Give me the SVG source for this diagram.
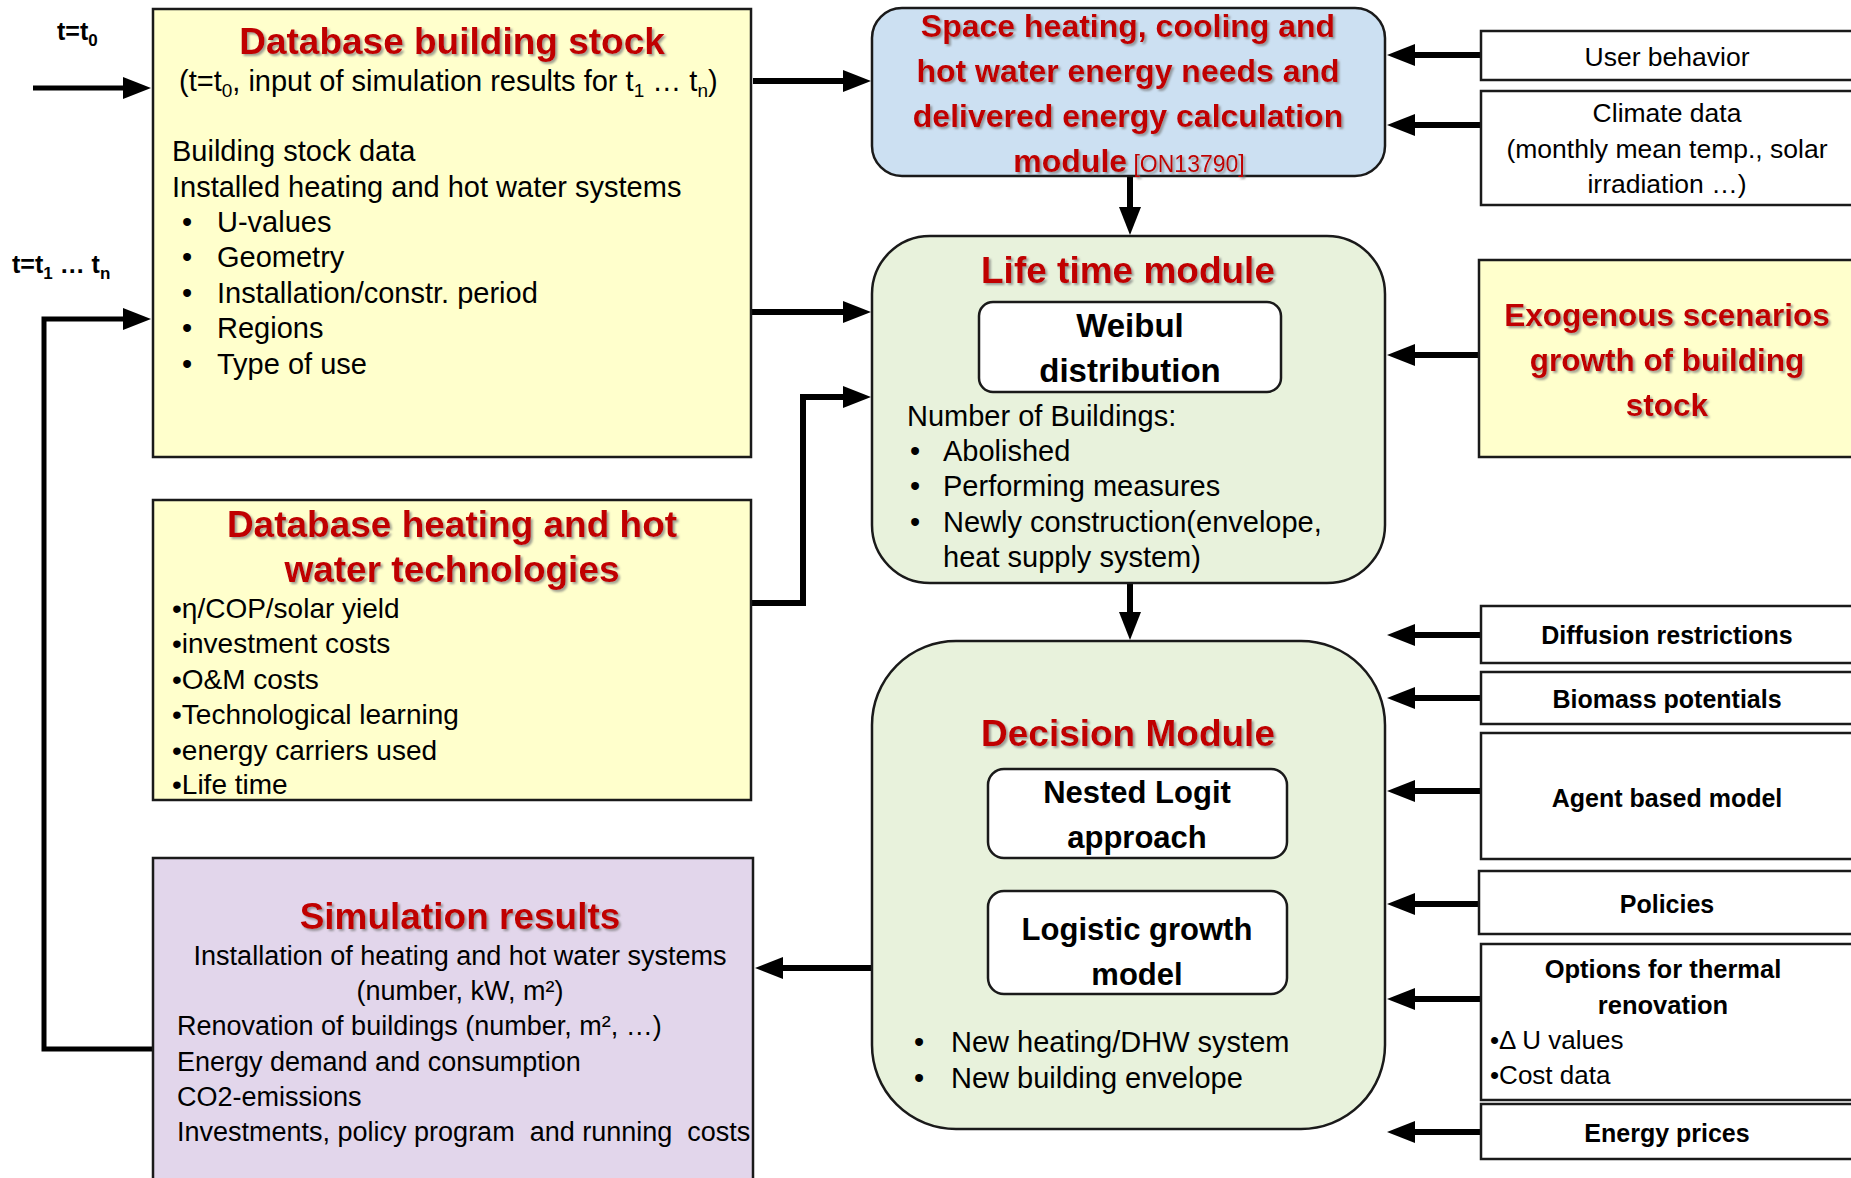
<svg xmlns="http://www.w3.org/2000/svg" width="1851" height="1178" viewBox="0 0 1851 1178">
<style>
.box{stroke:#1a1a1a;stroke-width:2.5}
.yel{fill:#FFFFCC}
.blue{fill:#CCE0F2}
.green{fill:#E8F2DC}
.lav{fill:#E2D6EB}
.wht{fill:#FFFFFF}
.t{font-family:"Liberation Sans",Arial,sans-serif;fill:#000}
.red{font-family:"Liberation Sans",Arial,sans-serif;font-weight:bold;fill:#C00000;filter:url(#sh)}
.b{font-weight:bold}
.c{text-anchor:middle}
.con{fill:none;stroke:#000;stroke-width:6}
.con2{fill:none;stroke:#000;stroke-width:5}
</style>
<defs>
<filter id="sh" x="-5%" y="-20%" width="110%" height="150%">
<feDropShadow dx="2" dy="2" stdDeviation="1" flood-color="#777" flood-opacity="0.7"/>
</filter>
<marker id="ah" markerUnits="userSpaceOnUse" markerWidth="28" markerHeight="22" viewBox="0 0 28 22" refX="2" refY="11" orient="auto">
<path d="M0,0 L28,11 L0,22 z" fill="#000"/>
</marker>
</defs>

<g id="connectors">
<path class="con2" d="M33,88 H125" marker-end="url(#ah)"/>
<path class="con2" d="M153,1049 H44 V319 H125" marker-end="url(#ah)"/>
<path class="con" d="M753,81 H845" marker-end="url(#ah)"/>
<path class="con" d="M751,312 H845" marker-end="url(#ah)"/>
<path class="con" d="M751,603 H803 V397 H845" marker-end="url(#ah)"/>
<path class="con" d="M1130,177 V209" marker-end="url(#ah)"/>
<path class="con" d="M1130,584 V614" marker-end="url(#ah)"/>
<path class="con" d="M871,968 H781" marker-end="url(#ah)"/>
<path class="con" d="M1480,55 H1413" marker-end="url(#ah)"/>
<path class="con" d="M1480,125 H1413" marker-end="url(#ah)"/>
<path class="con" d="M1480,355 H1413" marker-end="url(#ah)"/>
<path class="con" d="M1480,635 H1413" marker-end="url(#ah)"/>
<path class="con" d="M1480,698 H1413" marker-end="url(#ah)"/>
<path class="con" d="M1480,791 H1413" marker-end="url(#ah)"/>
<path class="con" d="M1480,904 H1413" marker-end="url(#ah)"/>
<path class="con" d="M1480,999 H1413" marker-end="url(#ah)"/>
<path class="con" d="M1480,1132 H1413" marker-end="url(#ah)"/>
</g>

<g id="label-t0">
<text class="t b" x="57" y="40" font-size="25">t=t<tspan font-size="17" dy="6">0</tspan></text>
</g>
<g id="label-t1">
<text class="t b" x="12" y="273" font-size="25">t=t<tspan font-size="17" dy="6">1</tspan><tspan dy="-6"> … t</tspan><tspan font-size="17" dy="6">n</tspan></text>
</g>

<g id="db-building-stock">
<rect class="box yel" x="153" y="9" width="598" height="448"/>
<text class="red c" x="452" y="54" font-size="37">Database building stock</text>
<text class="t" x="179" y="91" font-size="29">(t=t<tspan font-size="19" dy="6">0</tspan><tspan dy="-6">, input of simulation results for t</tspan><tspan font-size="19" dy="6">1</tspan><tspan dy="-6"> … t</tspan><tspan font-size="19" dy="6">n</tspan><tspan dy="-6">)</tspan></text>
<text class="t" x="172" y="161" font-size="29">Building stock data</text>
<text class="t" x="172" y="197" font-size="29">Installed heating and hot water systems</text>
<g class="t" font-size="29">
<text class="t" x="182" y="232">•</text><text class="t" x="217" y="232">U-values</text>
<text class="t" x="182" y="267">•</text><text class="t" x="217" y="267">Geometry</text>
<text class="t" x="182" y="303">•</text><text class="t" x="217" y="303">Installation/constr. period</text>
<text class="t" x="182" y="338">•</text><text class="t" x="217" y="338">Regions</text>
<text class="t" x="182" y="374">•</text><text class="t" x="217" y="374">Type of use</text>
</g>
</g>

<g id="db-heating-tech">
<rect class="box yel" x="153" y="500" width="598" height="300"/>
<text class="red c" x="452" y="537" font-size="37">Database heating and hot</text>
<text class="red c" x="452" y="582" font-size="37">water technologies</text>
<g font-size="28">
<text class="t" x="172" y="618">•η/COP/solar yield</text>
<text class="t" x="172" y="653">•investment costs</text>
<text class="t" x="172" y="689">•O&amp;M costs</text>
<text class="t" x="172" y="724">•Technological learning</text>
<text class="t" x="172" y="760">•energy carriers used</text>
<text class="t" x="172" y="794">•Life time</text>
</g>
</g>

<g id="simulation-results">
<rect class="box lav" x="153" y="858" width="600" height="330"/>
<text class="red c" x="460" y="929" font-size="37">Simulation results</text>
<g font-size="27">
<text class="t c" x="460" y="965">Installation of heating and hot water systems</text>
<text class="t c" x="460" y="1000">(number, kW, m²)</text>
<text class="t" x="177" y="1035">Renovation of buildings (number, m², …)</text>
<text class="t" x="177" y="1071">Energy demand and consumption</text>
<text class="t" x="177" y="1106">CO2-emissions</text>
<text class="t" x="177" y="1141" style="white-space:pre">Investments, policy program  and running  costs</text>
</g>
</g>

<g id="space-heating-module">
<rect class="box blue" x="872" y="8" width="513" height="168" rx="30"/>
<text class="red c" x="1128" y="37" font-size="32">Space heating, cooling and</text>
<text class="red c" x="1128" y="82" font-size="32">hot water energy needs and</text>
<text class="red c" x="1128" y="127" font-size="32">delivered energy calculation</text>
<text class="red c" x="1129" y="172" font-size="32">module<tspan font-size="23" font-weight="normal"> [ON13790]</tspan></text>
</g>

<g id="life-time-module">
<rect class="box green" x="872" y="236" width="513" height="347" rx="58"/>
<text class="red c" x="1128" y="283" font-size="37">Life time module</text>
<rect class="box wht" x="979" y="302" width="302" height="90" rx="14"/>
<text class="t b c" x="1130" y="337" font-size="33">Weibul</text>
<text class="t b c" x="1130" y="382" font-size="33">distribution</text>
<g font-size="29">
<text class="t" x="907" y="426">Number of Buildings:</text>
<text class="t" x="910" y="461">•</text><text class="t" x="943" y="461">Abolished</text>
<text class="t" x="910" y="496">•</text><text class="t" x="943" y="496">Performing measures</text>
<text class="t" x="910" y="532">•</text><text class="t" x="943" y="532">Newly construction(envelope,</text>
<text class="t" x="943" y="567">heat supply system)</text>
</g>
</g>

<g id="decision-module">
<rect class="box green" x="872" y="641" width="513" height="488" rx="84"/>
<text class="red c" x="1128" y="746" font-size="37">Decision Module</text>
<rect class="box wht" x="988" y="769" width="299" height="89" rx="16"/>
<text class="t b c" x="1137" y="803" font-size="31">Nested Logit</text>
<text class="t b c" x="1137" y="848" font-size="31">approach</text>
<rect class="box wht" x="988" y="891" width="299" height="103" rx="16"/>
<text class="t b c" x="1137" y="940" font-size="31">Logistic growth</text>
<text class="t b c" x="1137" y="985" font-size="31">model</text>
<g font-size="29">
<text class="t" x="914" y="1052">•</text><text class="t" x="951" y="1052">New heating/DHW system</text>
<text class="t" x="914" y="1088">•</text><text class="t" x="951" y="1088">New building envelope</text>
</g>
</g>

<g id="user-behavior">
<rect class="box wht" x="1481" y="31" width="380" height="49"/>
<text class="t c" x="1667" y="66" font-size="26.5">User behavior</text>
</g>
<g id="climate-data">
<rect class="box wht" x="1481" y="91" width="380" height="114"/>
<text class="t c" x="1667" y="122" font-size="26.5">Climate data</text>
<text class="t c" x="1667" y="158" font-size="26.5">(monthly mean temp., solar</text>
<text class="t c" x="1667" y="193" font-size="26.5">irradiation …)</text>
</g>
<g id="exogenous-scenarios">
<rect class="box yel" x="1479" y="260" width="382" height="197"/>
<text class="red c" x="1667" y="326" font-size="31.5">Exogenous scenarios</text>
<text class="red c" x="1667" y="371" font-size="31.5">growth of building</text>
<text class="red c" x="1667" y="416" font-size="31.5">stock</text>
</g>
<g id="diffusion-restrictions">
<rect class="box wht" x="1481" y="606" width="380" height="57"/>
<text class="t b c" x="1667" y="644" font-size="25">Diffusion restrictions</text>
</g>
<g id="biomass-potentials">
<rect class="box wht" x="1481" y="672" width="380" height="52"/>
<text class="t b c" x="1667" y="708" font-size="25">Biomass potentials</text>
</g>
<g id="agent-based-model">
<rect class="box wht" x="1481" y="733" width="380" height="126"/>
<text class="t b c" x="1667" y="807" font-size="25">Agent based model</text>
</g>
<g id="policies">
<rect class="box wht" x="1479" y="871" width="382" height="63"/>
<text class="t b c" x="1667" y="913" font-size="25">Policies</text>
</g>
<g id="thermal-renovation">
<rect class="box wht" x="1481" y="944" width="380" height="156"/>
<text class="t b c" x="1663" y="978" font-size="25.5">Options for thermal</text>
<text class="t b c" x="1663" y="1014" font-size="25.5">renovation</text>
<text class="t" x="1490" y="1049" font-size="26">•Δ U values</text>
<text class="t" x="1490" y="1084" font-size="26">•Cost data</text>
</g>
<g id="energy-prices">
<rect class="box wht" x="1481" y="1104" width="380" height="55"/>
<text class="t b c" x="1667" y="1142" font-size="25">Energy prices</text>
</g>
</svg>
